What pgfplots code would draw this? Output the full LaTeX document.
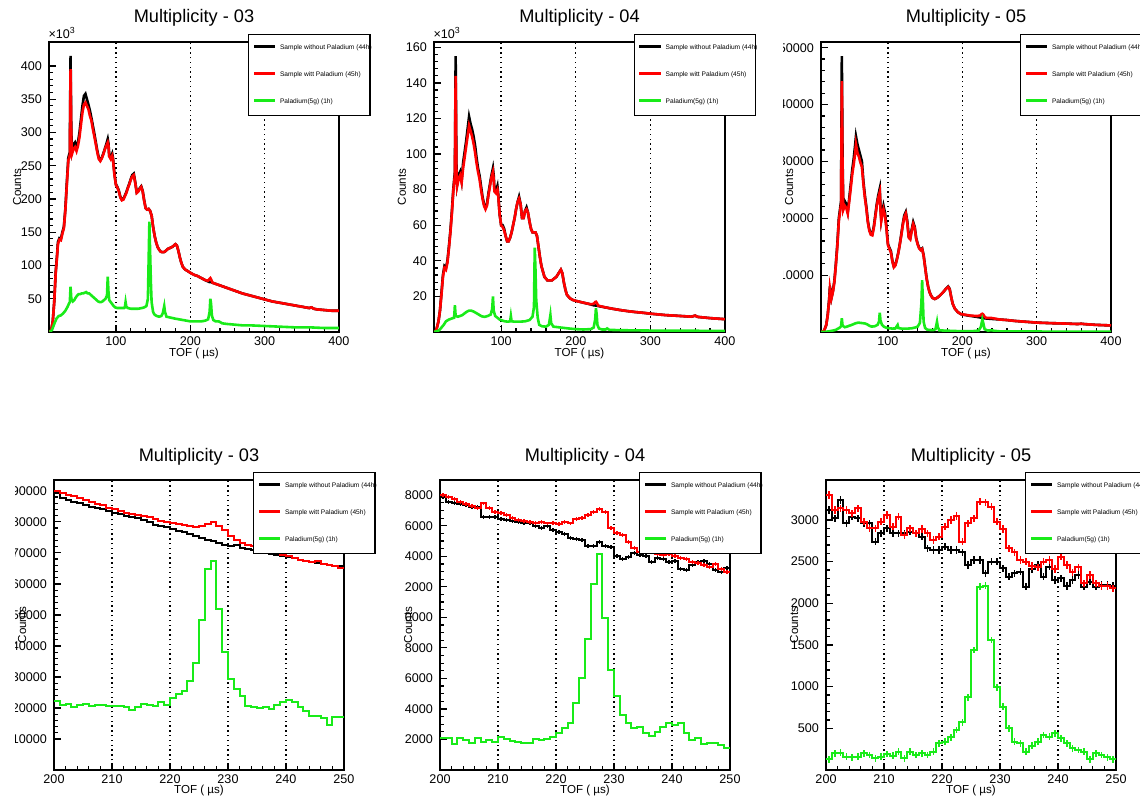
\documentclass[border=0pt]{standalone}
\usepackage{fontspec}
\setmainfont{Liberation Sans}
\usepackage{pgfplots}
\usepackage{pgfplotstable}
\pgfplotsset{compat=1.18}
\definecolor{pgreen}{RGB}{25,235,25}
\definecolor{pred}{RGB}{255,0,0}
\definecolor{pblack}{RGB}{0,0,0}

\pgfplotsset{
  every axis title shift=0pt,
  rootax/.style={
    scale only axis, width=145pt, height=145pt, anchor=south west,
    axis line style={line width=0.7pt},
    tick pos=left, tick align=inside,
    major tick length=3.5pt, minor tick length=1.75pt,
    every tick/.style={pblack, line width=0.6pt},
    minor x tick num=4, minor y tick num=4,
    xmajorgrids,
    major x grid style={pblack, line width=0.7pt, dash pattern=on 0.7pt off 1.7pt},
    scaled ticks=false,
    /pgf/number format/1000 sep={},
    /pgf/number format/assume math mode=true,
    ticklabel style={font=\fontsize{6.3}{7}\selectfont},
    xticklabel style={yshift=1.2pt},
    title style={font=\fontsize{9.1}{10}\selectfont, at={(axis description cs:0.5,1.082)}, anchor=center},
    every axis x label/.style={at={(axis description cs:0.5,-0.075)}, anchor=center, font=\fontsize{5.8}{6.5}\selectfont},
    every axis y label/.style={at={(axis description cs:-0.11,0.5)}, anchor=center, rotate=90, font=\fontsize{5.8}{6.5}\selectfont},
    xlabel={TOF ( µs)}, ylabel={Counts},
    legend style={at={(0.686,1.0276)}, anchor=north west, line width=0.7pt, fill=white, draw=pblack,
      inner xsep=2.5pt, inner ysep=5.2pt, row sep=10.5pt, column sep=2.5pt,
      font=\fontsize{3.3}{4}\selectfont,
      nodes={inner sep=0pt, text height=2.3pt, text depth=0.7pt}},
    legend cell align=left,
    ebar/.style={forget plot, only marks, mark=*, mark size=0pt, mark options={draw=none, fill=none},
      restrict x to domain=200:249.9},
  },
}
\newcommand{\rootlegend}{%
  \addlegendimage{legend image code/.code={\fill[pblack] (0pt,0.45pt) rectangle (10pt,1.15pt);}}
  \addlegendentry{\makebox[42.5pt][l]{Sample without Paladium (44h)}}
  \addlegendimage{legend image code/.code={\fill[pred] (0pt,0.45pt) rectangle (10pt,1.15pt);}}
  \addlegendentry{\makebox[42.5pt][l]{Sample witt Paladium (45h)}}
  \addlegendimage{legend image code/.code={\fill[pgreen] (0pt,0.45pt) rectangle (10pt,1.15pt);}}
  \addlegendentry{\makebox[42.5pt][l]{Paladium(5g) (1h)}}}

% ---------- Panel 1 : Multiplicity 03, full range (values in 10^3) ----------
\pgfplotstableread{
x b r
11 0 0
13 3 3
15 15 15
17 45 44
19 90 88
21 118 116
22 135 132
24 141 139
26 140 138
28 150 148
30 158 156
32 185 183
34 225 222
36 262 258
38 270 266
39 415 395
40 300 290
41 272 268
43 282 275
45 285 278
47 278 272
49 285 280
51 300 293
53 320 312
55 340 330
57 355 342
59 358 345
61 350 340
63 342 335
65 333 325
67 322 318
69 310 305
71 298 294
73 285 282
75 272 270
77 262 260
79 258 257
81 262 261
83 268 267
85 275 274
87 282 280
89 290 285
90 283 280
91 265 264
93 262 260
95 268 265
96 262 260
98 238 236
100 222 221
102 218 217
104 212 211
106 203 202
108 199 198
110 200 199
112 205 204
114 210 209
116 217 216
118 223 222
120 230 229
122 236 234
124 238 236
126 225 224
128 210 209
130 212 211
132 216 215
134 219 218
136 212 211
138 198 197
140 186 186
142 184 184
144 185 185
146 182 182
148 175 175
150 158 158
152 145 145
154 135 135
156 128 128
158 124 124
160 121 121
162 120 120
164 120 120
166 121 121
168 123 123
170 125 125
172 126 126
174 127 127
176 128 128
178 130 130
180 132 132
182 130 130
184 122 122
186 112 112
188 104 104
190 98 98
193 94 94
196 92 92
200 89 89
205 86 86
210 84 84
215 81 81
220 78 78
224 76 77
226 75 80
227 75 81
228 75 79
230 74 74
240 70 70
250 66 66
260 62 62
270 58 58
280 55 55
290 52 52
300 49 49
310 46 46
320 44 44
330 42 42
340 40 40
350 38 38
360 36 36
363 37 37
366 35 35
370 34 34
380 33 33
390 32 32
400 32 32
}\tA
\pgfplotstableread{
x g
11 0
14 3
17 12
20 20
23 24
26 25
29 28
32 32
35 38
37 43
38 45
39 68
40 50
42 46
44 48
46 52
48 55
50 57
52 57
54 58
56 58
58 59
60 60
62 58
64 58
66 56
68 54
70 52
72 50
74 48
76 46
78 45
80 45
82 46
84 48
86 50
88 55
89 83
90 60
91 48
93 45
95 42
97 39
99 37
102 36
105 36
108 36
111 36
112 37
113 45
114 38
116 36
120 35
125 35
130 35
135 36
138 37
141 39
143 50
145 166
146 120
147 75
148 45
150 30
152 26
155 24
158 23
161 24
163 28
165 39
166 30
168 23
172 22
176 21
180 20
185 19
190 18
195 17
200 16
205 16
210 16
215 16
220 17
224 19
226 30
227 50
228 42
229 25
231 18
234 16
238 16
240 15
243 13
250 12
260 11
270 10
280 10
300 9
320 8
340 7
360 7
380 6
400 6
}\tAg

% ---------- Panel 2 : Multiplicity 04, full range (values in 10^3) ----------
\pgfplotstableread{
x b r
10 0 0
13 1 1
16 6 6
18 12 12
20 22 21
22 32 31
24 37 36
26 36 35
28 40 39
30 48 47
32 57 56
34 68 67
36 81 80
38 90 88
39 155 144
40 95 92
41 83 82
43 88 86
45 90 88
47 85 84
49 95 92
51 101 98
53 107 104
55 114 110
57 121 116
59 117 113
61 114 110
63 110 106
65 105 101
67 98 95
69 92 90
71 88 86
73 82 80
75 76 75
77 72 71
79 70 69
81 72 71
83 78 77
85 83 82
87 88 87
89 92 90
90 88 86
91 80 79
93 79 78
95 82 80
96 78 77
98 66 66
100 60 60
102 60 59
104 58 57
106 54 54
108 51 51
110 51 51
112 53 53
114 56 56
116 60 60
118 64 64
120 69 69
122 73 73
124 76 75
126 72 72
128 64 64
130 64 64
132 68 68
134 70 69
136 67 67
138 62 62
140 58 58
142 56 56
144 56 56
146 56 56
148 54 54
150 48 48
152 42 42
154 37 37
156 34 34
158 31 31
160 30 30
162 29 29
165 29 29
168 29 29
171 30 30
174 31 31
177 33 33
180 35 35
182 33 33
184 28 28
186 24 24
188 21 21
192 19 19
196 18 18
200 17.5 17.5
210 16.5 16.5
220 15.5 15.6
224 15 15.8
226 14.9 16.8
227 14.8 17
228 14.8 16.5
230 14.6 14.8
240 13.8 13.8
250 13 13
260 12.3 12.3
270 11.7 11.7
280 11.2 11.2
290 10.8 10.8
300 10.3 10.3
320 9.5 9.5
340 9 9
355 8.6 8.6
360 9.2 9.2
363 8.5 8.5
380 7.8 7.8
400 7.2 7.2
}\tB
\pgfplotstableread{
x g
10 0
14 0.5
17 1
20 2.5
23 4
26 6
30 7
34 7.6
37 8
38 15
39 9
42 8.6
45 9
48 9.5
51 10.5
54 11.4
57 12
60 12
63 11.5
66 10.8
70 9.8
74 8.8
78 8.5
82 9
86 9.8
88 13
89 20
90 12
92 9
95 8
98 7
101 6.5
105 6
109 5.8
112 6
113 9
114 6
118 5.8
125 5.8
132 6
138 6.7
142 8.6
144 14
145 47.4
146 35
147 18
149 8
151 4
155 3.2
160 3
164 4
166 9.5
167 5
170 3
180 2.5
190 2
200 1.6
210 1.4
220 1.6
224 2.5
226 7
227 13.3
228 10
229 4
231 2
235 1.4
240 1.4
242 2
245 1.2
260 1
280 0.9
300 0.8
350 0.7
400 0.6
}\tBg

% ---------- Panel 3 : Multiplicity 05, full range ----------
\pgfplotstableread{
x b r
10 0 0
14 200 200
17 1200 1200
19 3000 2900
21 5800 5600
22 8000 7700
23 7000 6800
24 6000 5900
26 7200 7000
28 9000 8800
30 12000 11800
32 15500 15200
34 20000 19600
36 22000 21500
37 23000 22500
38 48500 44100
39 30000 28000
40 22000 21500
42 23000 22200
44 22500 21800
46 21200 20800
48 23500 23000
50 26000 25300
52 28500 27700
54 30500 29500
56 33000 31500
57 34400 33000
59 33000 31500
61 32000 30800
63 31000 29800
65 30000 29000
67 26500 26000
69 24000 23600
71 22000 21700
73 19500 19300
75 18000 17800
77 17300 17100
79 17200 17000
81 18500 18300
83 20500 20200
85 22500 22200
87 24000 23600
89 25200 24600
90 22000 21500
91 19800 19500
93 21500 21000
94 22200 21600
96 21000 20500
98 18500 18200
100 15500 15300
102 14800 14600
104 14200 14000
106 12500 12400
108 11500 11400
110 11800 11700
112 12800 12700
114 14000 13900
116 15500 15400
118 17200 17000
120 19000 18800
122 20500 20200
124 21100 20800
126 19500 19200
128 16800 16600
130 16500 16300
132 18000 17800
134 19300 19000
136 18500 18300
138 16500 16400
140 15500 15400
142 14800 14700
144 14500 14400
146 14700 14600
148 13500 13400
150 11500 11400
152 9500 9400
154 8000 8000
156 7000 7000
158 6400 6400
160 6000 6000
163 5800 5800
166 6000 6000
169 6300 6300
172 6700 6700
175 7100 7100
178 7600 7600
181 8000 7900
183 7600 7500
185 6200 6200
187 5000 5000
190 4100 4100
194 3500 3500
198 3150 3150
203 3000 3050
210 2850 2900
220 2650 2800
224 2550 2900
226 2500 3150
227 2450 3200
228 2450 3100
230 2400 2700
232 2380 2500
240 2300 2450
250 2200 2200
260 2100 2100
270 1950 1950
280 1850 1850
290 1750 1750
300 1650 1650
320 1550 1550
340 1480 1480
355 1400 1400
360 1450 1450
365 1380 1380
380 1250 1250
400 1150 1150
}\tC
\pgfplotstableread{
x g
10 0
15 20
20 100
25 220
30 380
35 750
37 1000
38 2400
39 1100
42 850
45 950
48 1100
51 1230
54 1400
57 1550
60 1650
63 1600
66 1550
69 1500
72 1350
75 1100
78 950
82 1000
86 1250
88 1800
89 3400
90 2000
92 1250
95 900
98 750
102 650
106 600
110 620
113 1230
114 700
118 600
125 580
132 650
137 800
140 950
143 1600
145 5000
146 9100
147 5500
148 1800
150 700
153 400
157 350
161 330
164 500
166 1800
167 900
169 300
175 250
185 200
195 150
205 150
215 160
222 250
225 900
227 2200
228 1700
230 500
234 250
240 300
243 200
250 120
270 100
300 80
350 60
400 50
}\tCg

% ---------- Panel 4 : Multiplicity 03, 200-250 (bin left edges) ----------
\pgfplotstableread{
x b r g
200 89400 89900 22200
201 87700 89400 21000
202 87000 88800 21300
203 86300 88300 20200
204 86100 87700 20800
205 85600 87000 21300
206 84800 86300 20600
207 84500 85900 21000
208 84000 85300 21100
209 83400 84500 20600
210 82900 84000 20600
211 82400 83400 20600
212 81800 82900 20200
213 81600 82600 19400
214 81100 82300 20200
215 80500 81800 21300
216 80000 81500 21000
217 79100 81000 20500
218 78600 80400 21900
219 78400 80100 21000
220 77700 79700 23300
221 77200 79300 24500
222 76700 78900 25400
223 76100 78600 28600
224 75400 78400 34500
225 74800 78800 48200
226 74300 79300 64900
227 73800 79900 67300
228 73200 78600 52000
229 72700 77300 37900
230 72100 75400 29400
231 72400 74300 26200
232 71600 73200 23700
233 71300 72700 20600
234 70800 72100 20200
235 70500 71600 20000
236 70000 71100 20200
237 69800 70500 19700
238 69300 70000 20800
239 69100 69400 21900
240 68700 68900 22700
241 68300 68200 21900
242 67800 67800 20200
243 67400 67300 18900
244 67200 67000 17500
245 66800 67400 17500
246 66500 66500 16800
247 66200 66200 14600
248 65900 65900 17000
249 65700 65100 17000
250 65700 65100 17000
}\tD

% ---------- Panel 5 : Multiplicity 04, 200-250 ----------
\pgfplotstableread{
x b r g
200 17900 18010 2120
201 17570 17900 2120
202 17500 17730 1700
203 17450 17570 2070
204 17350 17420 1960
205 17250 17290 1750
206 17200 17140 2070
207 16600 17460 1860
208 16550 17140 1960
209 16600 16920 1860
210 16450 16810 2140
211 16400 16700 2010
212 16330 16480 1920
213 16260 16370 1860
214 16200 16310 1750
215 16150 16260 1790
216 15980 16200 2010
217 15830 16220 1960
218 16000 16150 2010
219 15700 16200 2180
220 15610 16110 2400
221 15430 16260 2730
222 15170 16150 3100
223 15150 16420 4410
224 15100 16480 6000
225 14650 16700 8560
226 14700 16920 12200
227 14950 17070 14150
228 14650 16900 9930
229 14600 15830 6550
230 14000 15540 4850
231 13850 15390 3580
232 13950 14950 3060
233 14200 14520 2730
234 14100 14300 2840
235 14000 14840 2400
236 13650 14410 2230
237 13900 14150 2510
238 13800 14080 2800
239 13650 14150 3100
240 13700 14010 2950
241 13200 13860 3060
242 13100 13800 2440
243 13450 13640 1960
244 13600 13570 2070
245 13700 13420 1700
246 13500 13270 1750
247 13100 13490 1750
248 12990 13140 1640
249 13250 12990 1420
250 13250 12990 1420
}\tE

% ---------- Panel 6 : Multiplicity 05, 200-250 ----------
\pgfplotstableread{
x b r g
200 3120 3300 128
201 3020 3120 200
202 3240 3140 208
203 2960 3120 160
204 3040 3080 152
205 3020 3140 160
206 2960 2980 200
207 2960 2900 180
208 2740 2900 140
209 2840 2980 160
210 2900 3060 190
211 2840 2920 170
212 2840 3040 220
213 2840 2820 140
214 2860 2900 220
215 2840 2840 180
216 2800 2890 200
217 2660 2840 180
218 2640 2760 220
219 2640 2800 320
220 2680 2920 340
221 2640 3000 390
222 2640 3050 480
223 2610 2740 570
224 2460 2960 870
225 2520 3020 1440
226 2520 3220 2200
227 2360 3210 2210
228 2500 3160 1560
229 2500 2980 990
230 2420 2890 760
231 2320 2660 500
232 2360 2610 340
233 2380 2520 320
234 2200 2500 220
235 2410 2450 290
236 2460 2430 340
237 2320 2500 420
238 2440 2520 400
239 2280 2410 440
240 2300 2560 380
241 2210 2460 320
242 2280 2370 260
243 2340 2430 240
244 2200 2240 220
245 2260 2340 128
246 2200 2240 200
247 2220 2210 180
248 2220 2210 152
249 2210 2180 128
250 2210 2180 128
}\tF

\begin{document}
\begin{tikzpicture}
\useasboundingbox (0,0) rectangle (570pt,398pt);
\clip (0,0) rectangle (570pt,398pt);

% ---- top left
\begin{scope}
\begin{axis}[rootax, at={(24.5pt,232pt)}, title={Multiplicity - 03},
  xmin=10, xmax=400, ymin=0, ymax=436,
  xtick={100,200,300,400}, ytick={50,100,...,400},
  extra description/.code={\node[anchor=south west, inner sep=0pt, font=\fontsize{6.3}{7}\selectfont] at (-0.003,1.01) {×10\textsuperscript{3}};}]
\addplot[pblack, line width=1.3pt, forget plot] table[x=x, y=b] {\tA};
\addplot[pred, line width=1.3pt, forget plot] table[x=x, y=r] {\tA};
\addplot[pgreen, line width=1.3pt, forget plot] table[x=x, y=g] {\tAg};
\rootlegend
\end{axis}
\end{scope}

% ---- top middle
\begin{scope}
\begin{axis}[rootax, at={(217pt,232pt)}, width=145.5pt, title={Multiplicity - 04},
  xmin=10, xmax=400, ymin=0, ymax=163,
  xtick={100,200,300,400}, ytick={20,40,...,160},
  extra description/.code={\node[anchor=south west, inner sep=0pt, font=\fontsize{6.3}{7}\selectfont] at (-0.003,1.01) {×10\textsuperscript{3}};}]
\addplot[pblack, line width=1.3pt, forget plot] table[x=x, y=b] {\tB};
\addplot[pred, line width=1.3pt, forget plot] table[x=x, y=r] {\tB};
\addplot[pgreen, line width=1.3pt, forget plot] table[x=x, y=g] {\tBg};
\rootlegend
\end{axis}
\end{scope}

% ---- top right
\begin{scope}
\clip (391.75pt,199pt) rectangle (570pt,398pt);
\begin{axis}[rootax, at={(410.5pt,232pt)}, title={Multiplicity - 05},
  xmin=10, xmax=400, ymin=0, ymax=51000,
  xtick={100,200,300,400}, ytick={10000,20000,...,50000}]
\addplot[pblack, line width=1.3pt, forget plot] table[x=x, y=b] {\tC};
\addplot[pred, line width=1.3pt, forget plot] table[x=x, y=r] {\tC};
\addplot[pgreen, line width=1.3pt, forget plot] table[x=x, y=g] {\tCg};
\rootlegend
\end{axis}
\end{scope}

% ---- bottom left
\begin{scope}
\clip (7.75pt,0pt) rectangle (200pt,199pt);
\begin{axis}[rootax, at={(27pt,13pt)}, title={Multiplicity - 03},
  title style={at={(axis description cs:0.5,1.079)}},
  xmin=200, xmax=250, ymin=0, ymax=93500,
  xtick={200,210,...,250}, ytick={10000,20000,...,90000},
  every axis x label/.append style={at={(axis description cs:0.5,-0.071)}}]
\addplot[pblack, line width=1pt, const plot mark left, forget plot] table[x=x, y=b] {\tD};
\addplot[pred, line width=1pt, const plot mark left, forget plot] table[x=x, y=r] {\tD};
\addplot[pgreen, line width=1pt, const plot mark left, forget plot] table[x=x, y=g] {\tD};
\rootlegend
\end{axis}
\end{scope}

% ---- bottom middle
\begin{scope}
\clip (202pt,0pt) rectangle (381pt,199pt);
\begin{axis}[rootax, at={(220pt,13pt)}, title={Multiplicity - 04},
  title style={at={(axis description cs:0.5,1.079)}},
  xmin=200, xmax=250, ymin=0, ymax=19000,
  xtick={200,210,...,250}, ytick={2000,4000,...,18000}, minor y tick num=3,
  every axis x label/.append style={at={(axis description cs:0.5,-0.071)}}]
\addplot[pblack, line width=1pt, const plot mark left, forget plot] table[x=x, y=b] {\tE};
\addplot[pred, line width=1pt, const plot mark left, forget plot] table[x=x, y=r] {\tE};
\addplot[pgreen, line width=1pt, const plot mark left, forget plot] table[x=x, y=g] {\tE};
\addplot[ebar, error bars/.cd, y dir=both, y fixed=130, error mark=none,
  error bar style={draw=pblack, line width=0.7pt}]
  table[x expr=\thisrow{x}+0.5, y=b] {\tE};
\addplot[ebar, error bars/.cd, y dir=both, y fixed=130, error mark=none,
  error bar style={draw=pred, line width=0.7pt}]
  table[x expr=\thisrow{x}+0.5, y=r] {\tE};
\rootlegend
\end{axis}
\end{scope}

% ---- bottom right
\begin{scope}
\clip (381pt,0pt) rectangle (570pt,199pt);
\begin{axis}[rootax, at={(413pt,13pt)}, title={Multiplicity - 05},
  title style={at={(axis description cs:0.5,1.079)}},
  xmin=200, xmax=250, ymin=0, ymax=3480,
  xtick={200,210,...,250}, ytick={500,1000,...,3000},
  every axis x label/.append style={at={(axis description cs:0.5,-0.071)}}]
\addplot[pblack, line width=1pt, const plot mark left, forget plot] table[x=x, y=b] {\tF};
\addplot[pred, line width=1pt, const plot mark left, forget plot] table[x=x, y=r] {\tF};
\addplot[pgreen, line width=1pt, const plot mark left, forget plot] table[x=x, y=g] {\tF};
\addplot[ebar, error bars/.cd, y dir=both, y fixed=45, error mark=none,
  error bar style={draw=pblack, line width=0.8pt}]
  table[x expr=\thisrow{x}+0.5, y=b] {\tF};
\addplot[ebar, error bars/.cd, y dir=both, y fixed=45, error mark=none,
  error bar style={draw=pred, line width=0.8pt}]
  table[x expr=\thisrow{x}+0.5, y=r] {\tF};
\addplot[ebar, error bars/.cd, y dir=both, y fixed=40, error mark=none,
  error bar style={draw=pgreen, line width=0.8pt}]
  table[x expr=\thisrow{x}+0.5, y=g] {\tF};
\rootlegend
\end{axis}
\end{scope}

\end{tikzpicture}
\end{document}
